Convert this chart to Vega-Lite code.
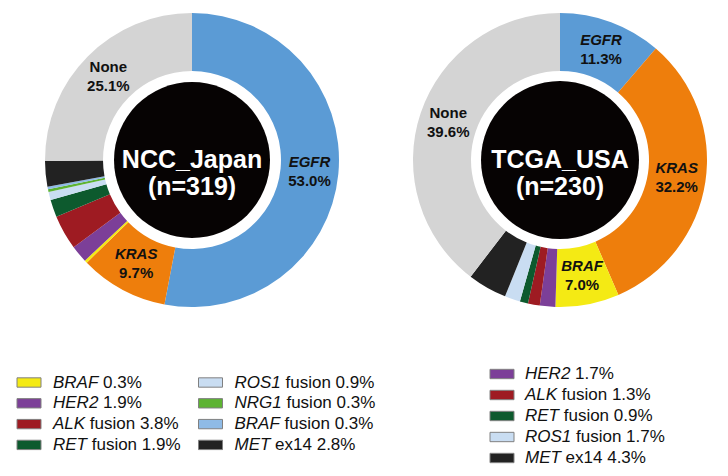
{
  "$schema": "https://vega.github.io/schema/vega-lite/v6.json",
  "padding": 0,
  "bounds": "flush",
  "background": "white",
  "columns": 2,
  "spacing": {"row": 10, "column": 8},
  "config": {"view": {"stroke": null}, "font": "Liberation Sans"},
  "concat": [
    {
      "width": 384,
      "height": 320,
      "data": {"values": [
        {"i": 1, "key": "EGFR", "lab": "EGFR", "value": 0.530},
        {"i": 2, "key": "KRAS", "lab": "KRAS", "value": 0.097},
        {"i": 3, "key": "BRAF", "lab": "", "value": 0.003},
        {"i": 4, "key": "HER2", "lab": "", "value": 0.019},
        {"i": 5, "key": "ALK", "lab": "", "value": 0.038},
        {"i": 6, "key": "RET", "lab": "", "value": 0.019},
        {"i": 7, "key": "ROS1", "lab": "", "value": 0.009},
        {"i": 8, "key": "NRG1", "lab": "", "value": 0.003},
        {"i": 9, "key": "BRAF fusion", "lab": "", "value": 0.003},
        {"i": 10, "key": "MET", "lab": "", "value": 0.028},
        {"i": 11, "key": "None", "lab": "None", "value": 0.251}
      ]},
      "layer": [
        {
          "mark": {"type": "arc", "outerRadius": 147, "innerRadius": 89},
          "encoding": {
            "theta": {"field": "value", "type": "quantitative", "stack": true},
            "order": {"field": "i", "type": "quantitative"},
            "color": {"field": "key", "type": "nominal", "legend": null,
              "scale": {"domain": ["EGFR","KRAS","BRAF","HER2","ALK","RET","ROS1","NRG1","BRAF fusion","MET","None"],
                        "range": ["#5B9BD5","#EE7E0C","#F4EA14","#7C3F98","#9E1B22","#0D5A2E","#C9DDF2","#5DB332","#8FBBE6","#222222","#D4D4D4"]}}
          }
        },
        {
          "mark": {"type": "text", "radius": 118, "dy": -9.5, "baseline": "middle", "fontSize": 15, "fontWeight": "bold", "fontStyle": "italic", "color": "#111"},
          "encoding": {
            "theta": {"field": "value", "type": "quantitative", "stack": true},
            "order": {"field": "i", "type": "quantitative"},
            "text": {"condition": {"test": "datum.lab == '' || datum.lab == 'None'", "value": ""}, "field": "lab", "type": "nominal"}
          }
        },
        {
          "mark": {"type": "text", "radius": 118, "dy": -9.5, "baseline": "middle", "fontSize": 15, "fontWeight": "bold", "color": "#111"},
          "encoding": {
            "theta": {"field": "value", "type": "quantitative", "stack": true},
            "order": {"field": "i", "type": "quantitative"},
            "text": {"condition": {"test": "datum.lab != 'None'", "value": ""}, "field": "lab", "type": "nominal"}
          }
        },
        {
          "mark": {"type": "text", "radius": 118, "dy": 9.5, "baseline": "middle", "fontSize": 15, "fontWeight": "bold", "color": "#111"},
          "encoding": {
            "theta": {"field": "value", "type": "quantitative", "stack": true},
            "order": {"field": "i", "type": "quantitative"},
            "text": {"condition": {"test": "datum.lab == ''", "value": ""}, "field": "value", "type": "quantitative", "format": ".1%"}
          }
        },
        {
          "data": {"values": [{"c": "center"}]},
          "mark": {"type": "arc", "radius": 78, "theta": 0, "theta2": 6.2832, "color": "#060303"},
          "encoding": {}
        },
        {
          "data": {"values": [{"t": "NCC_Japan\n(n=319)"}]},
          "mark": {"type": "text", "lineBreak": "\n", "color": "white", "fontSize": 25, "fontWeight": "bold", "lineHeight": 27, "baseline": "middle", "align": "center"},
          "encoding": {"text": {"field": "t", "type": "nominal"}}
        }
      ]
    },
    {
      "width": 336,
      "height": 320,
      "data": {"values": [
        {"i": 1, "key": "EGFR", "lab": "EGFR", "value": 0.113},
        {"i": 2, "key": "KRAS", "lab": "KRAS", "value": 0.322},
        {"i": 3, "key": "BRAF", "lab": "BRAF", "value": 0.070},
        {"i": 4, "key": "HER2", "lab": "", "value": 0.017},
        {"i": 5, "key": "ALK", "lab": "", "value": 0.013},
        {"i": 6, "key": "RET", "lab": "", "value": 0.009},
        {"i": 7, "key": "ROS1", "lab": "", "value": 0.017},
        {"i": 8, "key": "MET", "lab": "", "value": 0.043},
        {"i": 9, "key": "None", "lab": "None", "value": 0.396}
      ]},
      "layer": [
        {
          "mark": {"type": "arc", "outerRadius": 147, "innerRadius": 89},
          "encoding": {
            "theta": {"field": "value", "type": "quantitative", "stack": true},
            "order": {"field": "i", "type": "quantitative"},
            "color": {"field": "key", "type": "nominal", "legend": null,
              "scale": {"domain": ["EGFR","KRAS","BRAF","HER2","ALK","RET","ROS1","NRG1","BRAF fusion","MET","None"],
                        "range": ["#5B9BD5","#EE7E0C","#F4EA14","#7C3F98","#9E1B22","#0D5A2E","#C9DDF2","#5DB332","#8FBBE6","#222222","#D4D4D4"]}}
          }
        },
        {
          "mark": {"type": "text", "radius": 118, "dy": -9.5, "baseline": "middle", "fontSize": 15, "fontWeight": "bold", "fontStyle": "italic", "color": "#111"},
          "encoding": {
            "theta": {"field": "value", "type": "quantitative", "stack": true},
            "order": {"field": "i", "type": "quantitative"},
            "text": {"condition": {"test": "datum.lab == '' || datum.lab == 'None'", "value": ""}, "field": "lab", "type": "nominal"}
          }
        },
        {
          "mark": {"type": "text", "radius": 118, "dy": -9.5, "baseline": "middle", "fontSize": 15, "fontWeight": "bold", "color": "#111"},
          "encoding": {
            "theta": {"field": "value", "type": "quantitative", "stack": true},
            "order": {"field": "i", "type": "quantitative"},
            "text": {"condition": {"test": "datum.lab != 'None'", "value": ""}, "field": "lab", "type": "nominal"}
          }
        },
        {
          "mark": {"type": "text", "radius": 118, "dy": 9.5, "baseline": "middle", "fontSize": 15, "fontWeight": "bold", "color": "#111"},
          "encoding": {
            "theta": {"field": "value", "type": "quantitative", "stack": true},
            "order": {"field": "i", "type": "quantitative"},
            "text": {"condition": {"test": "datum.lab == ''", "value": ""}, "field": "value", "type": "quantitative", "format": ".1%"}
          }
        },
        {
          "data": {"values": [{"c": "center"}]},
          "mark": {"type": "arc", "radius": 79, "theta": 0, "theta2": 6.2832, "color": "#060303"},
          "encoding": {}
        },
        {
          "data": {"values": [{"t": "TCGA_USA\n(n=230)"}]},
          "mark": {"type": "text", "lineBreak": "\n", "color": "white", "fontSize": 25, "fontWeight": "bold", "lineHeight": 27, "baseline": "middle", "align": "center"},
          "encoding": {"text": {"field": "t", "type": "nominal"}}
        }
      ]
    },
    {
      "width": 384,
      "height": 146,
      "data": {"values": [
        {"col": 0, "row": 0, "key": "BRAF", "gene": "BRAF", "rest": "0.3%"},
        {"col": 0, "row": 1, "key": "HER2", "gene": "HER2", "rest": "1.9%"},
        {"col": 0, "row": 2, "key": "ALK", "gene": "ALK", "rest": "fusion 3.8%"},
        {"col": 0, "row": 3, "key": "RET", "gene": "RET", "rest": "fusion 1.9%"},
        {"col": 1, "row": 0, "key": "ROS1", "gene": "ROS1", "rest": "fusion 0.9%"},
        {"col": 1, "row": 1, "key": "NRG1", "gene": "NRG1", "rest": "fusion 0.3%"},
        {"col": 1, "row": 2, "key": "BRAF fusion", "gene": "BRAF", "rest": "fusion 0.3%"},
        {"col": 1, "row": 3, "key": "MET", "gene": "MET", "rest": "ex14 2.8%"}
      ]},
      "transform": [
        {"calculate": "0.667*length(datum.gene) + 0.166*length(replace(datum.gene, regexp('[^M]', 'g'), '')) + 0.111*length(replace(datum.gene, regexp('[^OG]', 'g'), '')) + 0.055*length(replace(datum.gene, regexp('[^RHN]', 'g'), '')) - 0.111*length(replace(datum.gene, regexp('[^L12]', 'g'), '')) - 0.056*length(replace(datum.gene, regexp('[^FT]', 'g'), ''))", "as": "gw"},
        {"calculate": "datum.col + datum.gw * 17 / 181.5", "as": "xr"}
      ],
      "layer": [
        {
          "mark": {"type": "point", "shape": "M-1,-0.39H1V0.39H-1Z", "size": 576, "filled": true, "opacity": 1, "stroke": "#808080", "strokeWidth": 1},
          "encoding": {
            "x": {"field": "col", "type": "quantitative", "axis": null, "scale": {"domain": [0, 1], "range": [29, 210.5]}},
            "y": {"field": "row", "type": "quantitative", "axis": null, "scale": {"domain": [0, 4], "range": [52.5, 135.7]}},
            "color": {"field": "key", "type": "nominal", "legend": null,
              "scale": {"domain": ["EGFR","KRAS","BRAF","HER2","ALK","RET","ROS1","NRG1","BRAF fusion","MET","None"],
                        "range": ["#5B9BD5","#EE7E0C","#F4EA14","#7C3F98","#9E1B22","#0D5A2E","#C9DDF2","#5DB332","#8FBBE6","#222222","#D4D4D4"]}}
          }
        },
        {
          "mark": {"type": "text", "align": "left", "baseline": "middle", "dx": 24, "fontSize": 17, "fontStyle": "italic", "color": "#111"},
          "encoding": {
            "x": {"field": "col", "type": "quantitative"},
            "y": {"field": "row", "type": "quantitative"},
            "text": {"field": "gene", "type": "nominal"}
          }
        },
        {
          "mark": {"type": "text", "align": "left", "baseline": "middle", "dx": 28.7, "fontSize": 17, "color": "#111"},
          "encoding": {
            "x": {"field": "xr", "type": "quantitative"},
            "y": {"field": "row", "type": "quantitative"},
            "text": {"field": "rest", "type": "nominal"}
          }
        }
      ]
    },
    {
      "width": 336,
      "height": 146,
      "data": {"values": [
        {"col": 0, "row": 0, "key": "HER2", "gene": "HER2", "rest": "1.7%"},
        {"col": 0, "row": 1, "key": "ALK", "gene": "ALK", "rest": "fusion 1.3%"},
        {"col": 0, "row": 2, "key": "RET", "gene": "RET", "rest": "fusion 0.9%"},
        {"col": 0, "row": 3, "key": "ROS1", "gene": "ROS1", "rest": "fusion 1.7%"},
        {"col": 0, "row": 4, "key": "MET", "gene": "MET", "rest": "ex14 4.3%"}
      ]},
      "transform": [
        {"calculate": "0.667*length(datum.gene) + 0.166*length(replace(datum.gene, regexp('[^M]', 'g'), '')) + 0.111*length(replace(datum.gene, regexp('[^OG]', 'g'), '')) + 0.055*length(replace(datum.gene, regexp('[^RHN]', 'g'), '')) - 0.111*length(replace(datum.gene, regexp('[^L12]', 'g'), '')) - 0.056*length(replace(datum.gene, regexp('[^FT]', 'g'), ''))", "as": "gw"},
        {"calculate": "datum.col + datum.gw * 17 / 181.5", "as": "xr"}
      ],
      "layer": [
        {
          "mark": {"type": "point", "shape": "M-1,-0.39H1V0.39H-1Z", "size": 576, "filled": true, "opacity": 1, "stroke": "#808080", "strokeWidth": 1},
          "encoding": {
            "x": {"field": "col", "type": "quantitative", "axis": null, "scale": {"domain": [0, 1], "range": [110, 291.5]}},
            "y": {"field": "row", "type": "quantitative", "axis": null, "scale": {"domain": [0, 4], "range": [44, 128]}},
            "color": {"field": "key", "type": "nominal", "legend": null,
              "scale": {"domain": ["EGFR","KRAS","BRAF","HER2","ALK","RET","ROS1","NRG1","BRAF fusion","MET","None"],
                        "range": ["#5B9BD5","#EE7E0C","#F4EA14","#7C3F98","#9E1B22","#0D5A2E","#C9DDF2","#5DB332","#8FBBE6","#222222","#D4D4D4"]}}
          }
        },
        {
          "mark": {"type": "text", "align": "left", "baseline": "middle", "dx": 23, "fontSize": 17, "fontStyle": "italic", "color": "#111"},
          "encoding": {
            "x": {"field": "col", "type": "quantitative"},
            "y": {"field": "row", "type": "quantitative"},
            "text": {"field": "gene", "type": "nominal"}
          }
        },
        {
          "mark": {"type": "text", "align": "left", "baseline": "middle", "dx": 27.7, "fontSize": 17, "color": "#111"},
          "encoding": {
            "x": {"field": "xr", "type": "quantitative"},
            "y": {"field": "row", "type": "quantitative"},
            "text": {"field": "rest", "type": "nominal"}
          }
        }
      ]
    }
  ]
}
